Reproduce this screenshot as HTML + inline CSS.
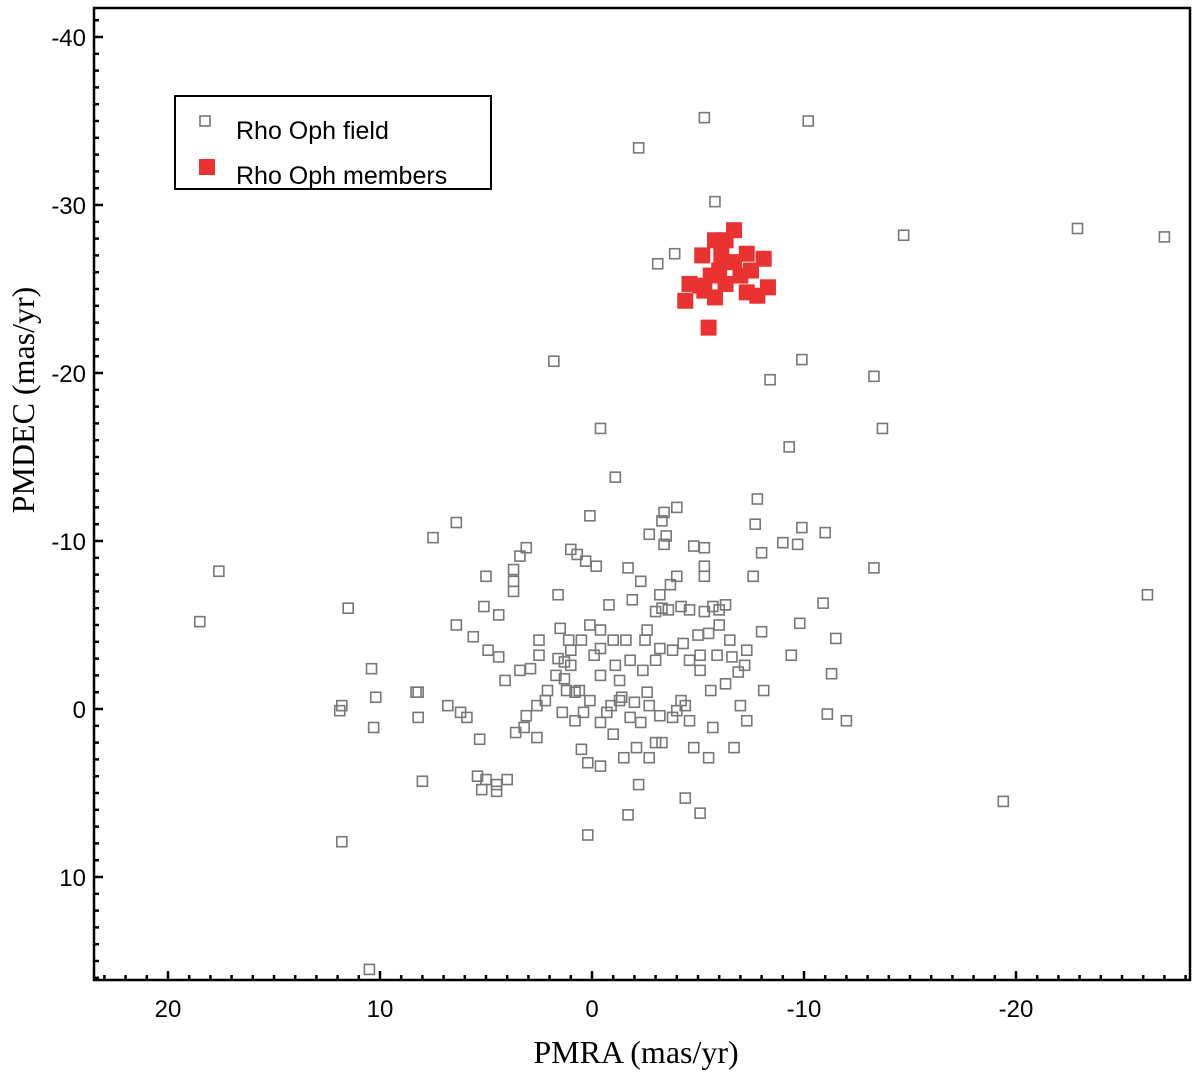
<!DOCTYPE html>
<html><head><meta charset="utf-8"><style>
body{margin:0;background:#fff;}
svg{display:block;}
</style></head><body>
<svg id="chart" width="1200" height="1078" viewBox="0 0 1200 1078" xmlns="http://www.w3.org/2000/svg">
<rect x="94" y="8" width="1096" height="972" fill="#fff" stroke="#000" stroke-width="2.5"/>
<g id="ticks"></g>
<g id="field"></g>
<g id="members"></g>
<text x="636" y="1063" text-anchor="middle" font-family="Liberation Serif, serif" font-size="32">PMRA (mas/yr)</text>
<text transform="translate(34,400) rotate(-90)" text-anchor="middle" font-family="Liberation Serif, serif" font-size="32">PMDEC (mas/yr)</text>
<g>
<rect x="175" y="96" width="316" height="93" fill="#fff" stroke="#000" stroke-width="2"/>
<rect x="200" y="116" width="10" height="10" fill="none" stroke="#777" stroke-width="1.6"/>
<text x="236" y="139" font-family="Liberation Sans, sans-serif" font-size="25">Rho Oph field</text>
<rect x="199" y="159" width="16" height="16" fill="#ea3232"/>
<text x="236" y="184" font-family="Liberation Sans, sans-serif" font-size="25">Rho Oph members</text>
</g>
</svg>
<script>
const xTicks=[20,10,0,-10,-20];
const yTicks=[-40,-30,-20,-10,0,10];
const fieldX=[-5.3,-10.2,-2.2,-14.7,-22.9,-27.0,-5.8,-3.1,-3.9,1.8,-9.9,-8.4,-13.3,-13.7,-0.4,-9.3,-1.1,17.6,18.5,11.5,7.5,6.4,-7.8,-7.7,-9.9,-11.0,-9.0,-9.7,-8.0,-13.3,-7.6,-26.2,-10.9,-9.8,-11.5,-8.0,-9.4,-11.3,-11.1,-12.0,-8.1,-7.0,-7.3,-19.4,11.8,11.9,10.4,10.2,10.3,8.2,8.2,8.0,11.8,10.5,6.8,6.2,5.9,5.3,6.4,5.6,4.9,4.4,4.4,5.1,5.0,3.7,3.7,3.7,3.4,3.1,1.6,1.0,0.7,0.3,-0.2,0.1,-1.7,-2.7,-3.3,-3.4,-4.0,-3.5,-3.4,-4.8,-5.3,-4.0,-5.3,-5.3,5.0,5.4,5.2,4.5,4.0,4.5,8.3,1.6,2.2,2.6,3.6,3.2,0.2,-1.7,-2.2,-4.4,-5.1,0.5,0.2,-0.4,-2.1,-3.0,-3.3,-4.8,-5.5,-6.7,-1.0,-1.5,-2.7,-0.4,0.4,-4.6,-5.7,1.4,1.2,0.8,0.6,-1.4,-2.0,-2.6,-4.0,-4.4,-4.2,-5.6,-6.3,-6.9,-5.1,-4.6,-1.3,-0.4,1.0,1.7,2.1,2.6,3.1,-0.4,-1.0,-1.6,-2.5,-3.2,-3.8,-4.3,-5.0,-5.5,-6.0,-4.6,-4.2,-3.6,-3.0,-2.6,-0.4,0.1,0.5,1.1,1.3,-5.1,-5.9,-6.6,-7.3,-7.2,-0.8,-1.9,-3.2,-3.7,-2.3,-3.3,-5.7,-6.0,-6.3,-5.3,-6.5,-0.1,-1.1,-1.8,-2.4,-3.0,-1.3,-2.7,-3.2,-3.8,-2.3,-1.8,-0.7,-0.9,0.1,0.8,1.3,1.0,1.5,2.5,2.9,4.1,3.4,2.5];
const fieldY=[-35.2,-35.0,-33.4,-28.2,-28.6,-28.1,-30.2,-26.5,-27.1,-20.7,-20.8,-19.6,-19.8,-16.7,-16.7,-15.6,-13.8,-8.2,-5.2,-6.0,-10.2,-11.1,-12.5,-11.0,-10.8,-10.5,-9.9,-9.8,-9.3,-8.4,-7.9,-6.8,-6.3,-5.1,-4.2,-4.6,-3.2,-2.1,0.3,0.7,-1.1,-0.2,0.7,5.5,-0.2,0.1,-2.4,-0.7,1.1,-1.0,0.5,4.3,7.9,15.5,-0.2,0.2,0.5,1.8,-5.0,-4.3,-3.5,-3.1,-5.6,-6.1,-7.9,-8.3,-7.6,-7.0,-9.1,-9.6,-6.8,-9.5,-9.2,-8.8,-8.5,-11.5,-8.4,-10.4,-11.2,-11.7,-12.0,-10.3,-9.8,-9.7,-9.6,-7.9,-8.5,-7.9,4.2,4.0,4.8,4.5,4.2,4.9,-1.0,-3.0,-0.5,1.7,1.4,1.1,7.5,6.3,4.5,5.3,6.2,2.4,3.2,3.4,2.3,2.0,2.0,2.3,2.9,2.3,1.5,2.9,2.9,0.8,0.2,0.7,1.1,0.2,-1.1,-1.0,-1.1,-0.7,-0.4,-1.0,0.1,-0.2,-0.5,-1.1,-1.5,-2.2,-2.3,-2.9,-1.7,-2.0,-2.6,-2.0,-1.1,-0.2,0.4,-3.6,-4.1,-4.1,-4.1,-3.6,-3.5,-3.9,-4.4,-4.5,-5.0,-5.9,-6.1,-5.9,-5.8,-4.7,-4.7,-5.0,-4.1,-4.1,-2.8,-3.2,-3.2,-3.1,-3.5,-2.6,-6.2,-6.5,-6.8,-7.4,-7.6,-6.0,-6.1,-5.9,-6.2,-5.8,-4.1,-3.2,-2.6,-2.9,-2.3,-2.9,-0.5,-0.2,0.4,0.5,0.8,0.5,0.2,-0.2,-0.5,0.7,-1.8,-3.5,-4.8,-4.1,-2.4,-1.7,-2.3,-3.2];
const memberX=[-5.5,-4.4,-4.6,-5.2,-5.8,-6.7,-6.3,-7.3,-8.1,-8.3,-7.8,-7.3,-6.0,-5.6,-5.3,-5.8,-6.3,-7.0,-7.5,-6.7,-5.1,-6.1];
const memberY=[-22.7,-24.3,-25.3,-27.0,-27.9,-28.5,-27.9,-27.1,-26.8,-25.1,-24.6,-24.8,-26.1,-25.8,-24.9,-24.5,-25.3,-25.8,-26.1,-26.6,-25.2,-27.0];

const NS='http://www.w3.org/2000/svg';
function sx(v){return 592-21.2*v;}
function sy(v){return 709+16.8*v;}
function mk(tag,attrs,parent){const e=document.createElementNS(NS,tag);for(const k in attrs)e.setAttribute(k,attrs[k]);parent.appendChild(e);return e;}
const tg=document.getElementById('ticks');
for(let v=-28;v<=23;v++){const x=sx(v);if(x<95||x>1189)continue;const major=v%10===0;
 const t=mk('line',{x1:x,x2:x,y1:980,y2:major?971:975,stroke:'#000','stroke-width':2.5},tg);
 
 }
for(let v=-41;v<=16;v++){const y=sy(v);if(y<9||y>979)continue;const major=v%10===0;
 const t=mk('line',{x1:94,x2:major?103:99,y1:y,y2:y,stroke:'#000','stroke-width':2.5},tg);
 
 }
xTicks.forEach(v=>{const t=mk('text',{x:sx(v),y:1017,'text-anchor':'middle','font-family':'Liberation Sans, sans-serif','font-size':24},tg);t.textContent=String(v);
 
 });
yTicks.forEach(v=>{const t=mk('text',{x:86,y:sy(v)+9,'text-anchor':'end','font-family':'Liberation Sans, sans-serif','font-size':24},tg);t.textContent=String(v);
 
 });
const fg=document.getElementById('field');
fieldX.forEach((v,i)=>{const r=mk('rect',{x:sx(v)-5,y:sy(fieldY[i])-5,width:10,height:10,fill:'none',stroke:'#777','stroke-width':1.6},fg);
 
 });
const mg=document.getElementById('members');
memberX.forEach((v,i)=>{const r=mk('rect',{x:sx(v)-8,y:sy(memberY[i])-8,width:16,height:16,fill:'#ea3232'},mg);
 
 });
</script>
</body></html>
